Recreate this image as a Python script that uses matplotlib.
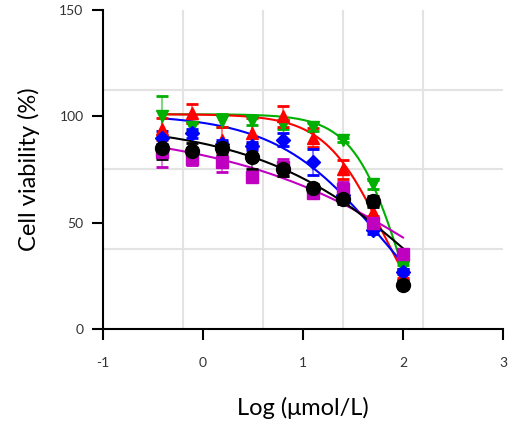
import numpy as np
import matplotlib
matplotlib.use("Agg")
import matplotlib.pyplot as plt
from matplotlib.ticker import FixedLocator

plt.rcParams['font.family'] = ['Lato', 'DejaVu Sans']
plt.rcParams['axes.unicode_minus'] = False

# log concentration (umol/L)
logConc = np.log10([0.390625, 0.78125, 1.5625, 3.125, 6.25, 12.5, 25, 50, 100])

# mean viability (%) and error
greenY = [100, 95, 98, 98, 96, 95, 89, 68, 29]
greenErr = [9.5, 2, 3, 2, 2, 2, 1, 2, 1]
redY = [94, 101.5, 89, 92, 100, 90, 75, 55, 26]
redErr = [5, 4.5, 6, 7, 5, 4.5, 4.5, 3, 2]
blueY = [90, 92, 87, 86, 89, 78.5, 63, 46.5, 27]
blueErr = [3, 2, 2, 2, 3, 6, 2, 2, 1]
magentaY = [83, 80, 78.5, 71.5, 76, 64, 66, 50, 35.5]
magentaErr = [7, 3, 4.5, 2, 4, 2, 3, 3, 1]
blackY = [85, 83.5, 85, 81, 75, 66.3, 61, 60, 20.5]
blackErr = [5, 4, 3, 6, 3, 2, 2, 2.5, 1]

# fitted dose-response curves: top, bottom, logIC50, hill
greenFit = [101, -50, 2.02, 1.71]
redFit = [101, -10, 1.797, 1.48]
blueFit = [101, -20, 1.824, 0.8]
magentaFit = [95, -60, 2.814, 0.365]
blackFit = [97, -60, 2.459, 0.479]

series = [
    (greenY, greenErr, greenFit, '#00b000', 'v', 9),
    (redY, redErr, redFit, '#ff0000', '^', 9),
    (blueY, blueErr, blueFit, '#0000ff', 'D', 7),
    (magentaY, magentaErr, magentaFit, '#c000c0', 's', 9),
    (blackY, blackErr, blackFit, '#000000', 'o', 10),
]


def logistic(p, x):
    top, bottom, logic50, hill = p
    return bottom + (top - bottom) / (1 + 10 ** ((x - logic50) * hill))


fig = plt.figure(figsize=(5.08, 4.26), dpi=100)
ax = fig.add_axes([103 / 508, 97 / 426, 400 / 508, 319 / 426])

xs = np.linspace(logConc[0], logConc[-1], 200)
for y, err, fit, color, marker, ms in series:
    ax.plot(xs, logistic(fit, xs), color=color, lw=1.5, zorder=3)
    eb = ax.errorbar(logConc, y, yerr=err, fmt=marker, color=color, ms=ms,
                     ecolor=color, elinewidth=1.5, capsize=4.5, capthick=2,
                     zorder=4)
    eb[2][0].set_alpha(0.5)

ax.set_xlim(-1, 3)
ax.set_ylim(0, 150)
ax.set_xticks([-1, 0, 1, 2, 3])
ax.set_yticks([0, 50, 100, 150])
ax.xaxis.set_minor_locator(FixedLocator([-0.2, 0.6, 1.4, 2.2, 3.0]))
ax.yaxis.set_minor_locator(FixedLocator([37.5, 75, 112.5, 150]))
ax.grid(which='minor', color='#e3e3e3', lw=1.5, zorder=0)
ax.tick_params(which='minor', length=0)
ax.tick_params(which='major', length=8, width=1.5, labelsize=10,
               labelcolor='#333333')
ax.tick_params(axis='x', pad=12)
ax.tick_params(axis='y', pad=6)
for s in ['top', 'right']:
    ax.spines[s].set_visible(False)
for s in ['left', 'bottom']:
    ax.spines[s].set_linewidth(1.5)
ax.set_axisbelow(True)

ax.set_xlabel('Log (μmol/L)', fontsize=17, labelpad=20)
ax.set_ylabel('Cell viability (%)', fontsize=17, labelpad=14)

fig.savefig('out.png', dpi=100)
